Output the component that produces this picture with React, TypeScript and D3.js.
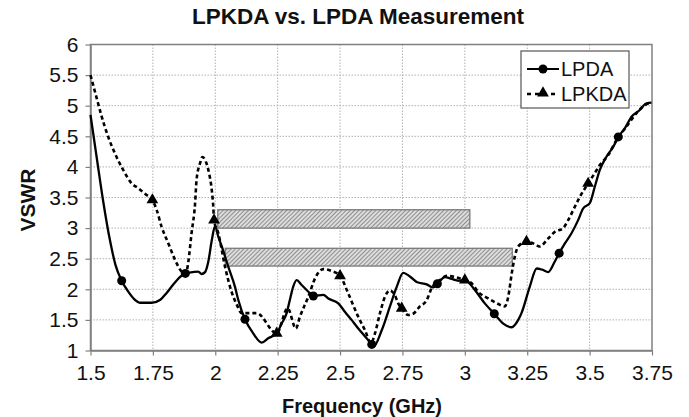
import React, { useEffect, useRef } from 'react'
import * as d3 from 'd3'

// LPDA (solid) trace
const lpdaFreq = [
  1.5, 1.525, 1.55, 1.578, 1.6, 1.625, 1.65, 1.675, 1.7, 1.745, 1.78, 1.805, 1.83, 1.858, 1.88, 1.91,
  1.932, 1.945, 1.959, 1.972, 1.986, 1.999, 2.012, 2.026, 2.052, 2.079, 2.092, 2.119, 2.152, 2.186,
  2.212, 2.246, 2.266, 2.286, 2.299, 2.312, 2.326, 2.346, 2.373, 2.393, 2.433, 2.453, 2.493, 2.52,
  2.546, 2.573, 2.6, 2.627, 2.634, 2.667, 2.7, 2.727, 2.753, 2.78, 2.807, 2.847, 2.873, 2.89, 2.92,
  2.947, 2.975, 3.0, 3.04, 3.08, 3.118, 3.154, 3.188, 3.214, 3.227, 3.26, 3.288, 3.31, 3.334, 3.36,
  3.378, 3.401, 3.428, 3.454, 3.474, 3.501, 3.521, 3.541, 3.568, 3.595, 3.615, 3.641, 3.668, 3.701,
  3.728, 3.748,
]
const lpdaVswr = [
  4.85, 4.15, 3.46, 2.8, 2.4, 2.14, 1.97, 1.84, 1.78, 1.78, 1.83, 1.94, 2.07, 2.2, 2.26, 2.28, 2.29,
  2.25, 2.28, 2.45, 2.8, 3.03, 2.86, 2.7, 2.37, 2.04, 1.83, 1.51, 1.28, 1.13, 1.2, 1.28, 1.44, 1.61,
  1.83, 2.04, 2.15, 2.07, 1.96, 1.89, 1.91, 1.85, 1.77, 1.63, 1.5, 1.36, 1.23, 1.1, 1.06, 1.33, 1.72,
  2.04, 2.27, 2.21, 2.12, 2.08, 2.03, 2.09, 2.2, 2.17, 2.14, 2.15, 1.99, 1.77, 1.6, 1.44, 1.38, 1.5,
  1.61, 2.04, 2.34, 2.32, 2.28, 2.45, 2.59, 2.75, 2.92, 3.13, 3.32, 3.41, 3.68, 3.95, 4.17, 4.33, 4.49,
  4.63, 4.82, 4.93, 5.04, 5.05,
]
const lpdaMarkFreq = [1.625, 1.88, 2.119, 2.393, 2.627, 2.89, 3.118, 3.378, 3.615]
const lpdaMarkVswr = [2.14, 2.26, 1.51, 1.89, 1.1, 2.09, 1.6, 2.59, 4.49]

// LPKDA (dashed) trace
const lpkdaFreq = [
  1.5, 1.525, 1.545, 1.571, 1.598, 1.631, 1.665, 1.692, 1.725, 1.748, 1.765, 1.785, 1.812, 1.839,
  1.865, 1.882, 1.892, 1.905, 1.919, 1.925, 1.939, 1.948, 1.962, 1.975, 1.986, 1.992, 1.995, 2.012,
  2.039, 2.066, 2.086, 2.106, 2.166, 2.246, 2.29, 2.323, 2.339, 2.373, 2.4, 2.433, 2.466, 2.5, 2.533,
  2.573, 2.6, 2.624, 2.64, 2.66, 2.68, 2.7, 2.72, 2.733, 2.747, 2.773, 2.793, 2.82, 2.847, 2.867, 2.9,
  2.927, 2.96, 3.0, 3.027, 3.053, 3.094, 3.134, 3.16, 3.174, 3.188, 3.2, 3.214, 3.247, 3.274, 3.3,
  3.334, 3.361, 3.394, 3.414, 3.441, 3.461, 3.494, 3.521, 3.541, 3.574, 3.608, 3.648, 3.688, 3.722,
  3.742,
]
const lpkdaVswr = [
  5.5, 5.12, 4.82, 4.49, 4.22, 3.95, 3.73, 3.65, 3.54, 3.46, 3.3, 3.02, 2.75, 2.48, 2.29, 2.25, 2.45,
  2.92, 3.4, 3.79, 4.06, 4.16, 4.09, 3.9, 3.62, 3.35, 3.13, 2.92, 2.37, 1.95, 1.75, 1.61, 1.61, 1.28,
  1.69, 1.36, 1.55, 1.88, 2.18, 2.33, 2.3, 2.22, 1.93, 1.55, 1.33, 1.12, 1.28, 1.61, 1.88, 1.98, 1.9,
  1.77, 1.69, 1.58, 1.6, 1.72, 1.82, 2.02, 2.15, 2.22, 2.2, 2.15, 2.1, 1.96, 1.85, 1.76, 1.72, 1.88,
  2.26, 2.53, 2.7, 2.78, 2.75, 2.7, 2.83, 2.94, 3.0, 3.13, 3.35, 3.51, 3.73, 3.9, 4.03, 4.19, 4.44,
  4.66, 4.88, 5.01, 5.05,
]
const lpkdaMarkFreq = [1.748, 1.995, 2.246, 2.5, 2.747, 3.0, 3.247, 3.494]
const lpkdaMarkVswr = [3.46, 3.13, 1.28, 2.22, 1.69, 2.15, 2.78, 3.73]

// hatched bands
const bandStart = [2.01, 2.04]
const bandEnd = [3.02, 3.19]
const bandLow = [3.0, 2.38]
const bandHigh = [3.3, 2.67]

const xTicks = [1.5, 1.75, 2, 2.25, 2.5, 2.75, 3, 3.25, 3.5, 3.75]
const xTickLabels = ['1.5', '1.75', '2', '2.25', '2.5', '2.75', '3', '3.25', '3.5', '3.75']
const yTicks = [1, 1.5, 2, 2.5, 3, 3.5, 4, 4.5, 5, 5.5, 6]
const yTickLabels = ['1', '1.5', '2', '2.5', '3', '3.5', '4', '4.5', '5', '5.5', '6']

const seriesNames = ['LPDA', 'LPKDA']

const FONT = 'Liberation Sans, Arial, sans-serif'

const App = () => {
  const svgRef = useRef(null)

  useEffect(() => {
    const width = 689
    const height = 417
    const svg = d3.select(svgRef.current).attr('width', width).attr('height', height)
    svg.selectAll('*').remove()

    const x = d3.scaleLinear().domain([1.5, 3.75]).range([90.5, 652])
    const y = d3.scaleLinear().domain([1, 6]).range([350.5, 44.5])

    // hatch pattern
    const defs = svg.append('defs')
    const pat = defs
      .append('pattern')
      .attr('id', 'hatch')
      .attr('patternUnits', 'userSpaceOnUse')
      .attr('width', 3)
      .attr('height', 3)
      .attr('patternTransform', 'rotate(45)')
    pat.append('rect').attr('width', 3).attr('height', 3).attr('fill', '#dcdcdc')
    pat.append('line').attr('x1', 0).attr('y1', 0).attr('x2', 0).attr('y2', 3)
      .attr('stroke', '#6e6e6e').attr('stroke-width', 1.4)

    // gridlines
    svg
      .append('g')
      .selectAll('line')
      .data(xTicks.slice(1, -1))
      .enter()
      .append('line')
      .attr('x1', (d) => x(d))
      .attr('x2', (d) => x(d))
      .attr('y1', y(6))
      .attr('y2', y(1))
      .attr('stroke', '#b0b0b0')
      .attr('stroke-dasharray', '1.5,1.5')
    svg
      .append('g')
      .selectAll('line')
      .data(yTicks.slice(1, -1))
      .enter()
      .append('line')
      .attr('x1', x(1.5))
      .attr('x2', x(3.75))
      .attr('y1', (d) => y(d))
      .attr('y2', (d) => y(d))
      .attr('stroke', '#b0b0b0')
      .attr('stroke-dasharray', '1.5,1.5')

    // frame
    svg
      .append('rect')
      .attr('x', x(1.5))
      .attr('y', y(6))
      .attr('width', x(3.75) - x(1.5))
      .attr('height', y(1) - y(6))
      .attr('fill', 'none')
      .attr('stroke', '#808080')
      .attr('stroke-width', 1.5)

    // hatched bands
    svg
      .append('g')
      .selectAll('rect')
      .data(bandStart)
      .enter()
      .append('rect')
      .attr('x', (d) => x(d))
      .attr('y', (d, i) => y(bandHigh[i]))
      .attr('width', (d, i) => x(bandEnd[i]) - x(d))
      .attr('height', (d, i) => y(bandLow[i]) - y(bandHigh[i]))
      .attr('fill', 'url(#hatch)')
      .attr('stroke', '#7a7a7a')
      .attr('stroke-width', 1.3)

    // axes
    const xAxis = svg
      .append('g')
      .attr('transform', `translate(0, ${y(1)})`)
      .call(
        d3.axisBottom(x).tickValues(xTicks).tickFormat((d, i) => xTickLabels[i]).tickSize(5).tickSizeOuter(0)
      )
    const yAxis = svg
      .append('g')
      .attr('transform', `translate(${x(1.5)}, 0)`)
      .call(
        d3.axisLeft(y).tickValues(yTicks).tickFormat((d, i) => yTickLabels[i]).tickSize(5).tickSizeOuter(0)
      )
    ;[xAxis, yAxis].forEach((a) => {
      a.select('.domain').attr('stroke', '#808080').attr('stroke-width', 1.5)
      a.selectAll('.tick line').attr('stroke', '#808080').attr('stroke-width', 1.2)
      a.selectAll('.tick text').attr('fill', '#111').style('font-family', FONT).style('font-size', '21px')
    })
    xAxis.selectAll('.tick text').attr('dy', '0.71em').attr('y', 15)
    yAxis.selectAll('.tick text').attr('x', -12)

    // series lines
    const line = d3
      .line()
      .x((d) => x(d[0]))
      .y((d) => y(d[1]))
      .curve(d3.curveMonotoneX)

    const lpkda = lpkdaFreq.map((f, i) => [f, lpkdaVswr[i]])
    const lpda = lpdaFreq.map((f, i) => [f, lpdaVswr[i]])

    svg
      .append('path')
      .datum(lpkda)
      .attr('d', line)
      .attr('fill', 'none')
      .attr('stroke', '#000')
      .attr('stroke-width', 2.6)
      .attr('stroke-dasharray', '4,3')

    svg
      .append('path')
      .datum(lpda)
      .attr('d', line)
      .attr('fill', 'none')
      .attr('stroke', '#000')
      .attr('stroke-width', 2.3)

    // markers
    const tri = d3.symbol().type(d3.symbolTriangle).size(60)
    svg
      .append('g')
      .selectAll('path')
      .data(lpkdaMarkFreq)
      .enter()
      .append('path')
      .attr('d', tri)
      .attr('transform', (d, i) => `translate(${x(d)}, ${y(lpkdaMarkVswr[i])})`)
      .attr('fill', '#000')

    svg
      .append('g')
      .selectAll('circle')
      .data(lpdaMarkFreq)
      .enter()
      .append('circle')
      .attr('cx', (d) => x(d))
      .attr('cy', (d, i) => y(lpdaMarkVswr[i]))
      .attr('r', 4.5)
      .attr('fill', '#000')

    // legend
    const lg = svg.append('g').attr('transform', 'translate(521, 51)')
    lg.append('rect').attr('width', 108).attr('height', 57).attr('fill', '#fff')
      .attr('stroke', '#555').attr('stroke-width', 1.2)
    lg.append('line').attr('x1', 6).attr('x2', 38).attr('y1', 18).attr('y2', 18)
      .attr('stroke', '#000').attr('stroke-width', 2)
    lg.append('circle').attr('cx', 22).attr('cy', 18).attr('r', 4.5).attr('fill', '#000')
    lg.append('line').attr('x1', 6).attr('x2', 38).attr('y1', 43).attr('y2', 43)
      .attr('stroke', '#000').attr('stroke-width', 2.5).attr('stroke-dasharray', '4,4')
    lg.append('path').attr('d', tri).attr('transform', 'translate(22, 42)').attr('fill', '#000')
    lg.selectAll('text')
      .data(seriesNames)
      .enter()
      .append('text')
      .text((d) => d)
      .attr('x', 40)
      .attr('y', (d, i) => 25 + i * 25)
      .style('font-family', FONT)
      .style('font-size', '20px')
      .attr('fill', '#111')

    // title
    svg
      .append('text')
      .text('LPKDA vs. LPDA Measurement')
      .attr('x', 358)
      .attr('y', 24)
      .attr('text-anchor', 'middle')
      .style('font-family', FONT)
      .style('font-size', '22.5px')
      .style('font-weight', 'bold')
      .attr('fill', '#111')

    // axis titles
    svg
      .append('text')
      .text('Frequency (GHz)')
      .attr('x', 362)
      .attr('y', 413)
      .attr('text-anchor', 'middle')
      .style('font-family', FONT)
      .style('font-size', '20px')
      .style('font-weight', 'bold')
      .attr('fill', '#111')

    svg
      .append('text')
      .text('VSWR')
      .attr('transform', 'rotate(-90)')
      .attr('x', -200)
      .attr('y', 35)
      .attr('text-anchor', 'middle')
      .style('font-family', FONT)
      .style('font-size', '21px')
      .style('font-weight', 'bold')
      .attr('fill', '#111')
  }, [])

  return <svg ref={svgRef} style={{ position: 'absolute', left: 0, top: 0, background: '#fff' }}></svg>
}

export default App
